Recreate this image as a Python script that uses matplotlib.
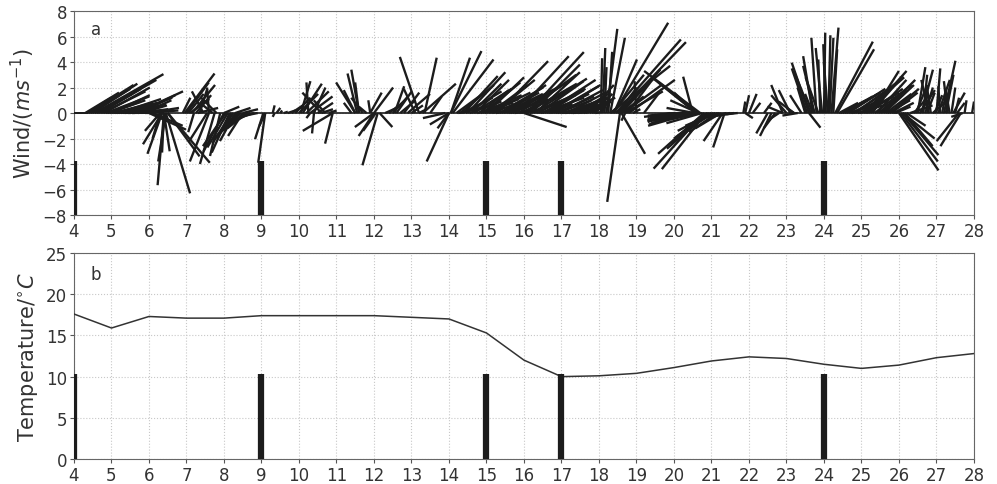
import numpy as np
import matplotlib
matplotlib.use("Agg")
import matplotlib.pyplot as plt

# ── Wind sticks: base time [day], u and v components [m/s] ───────────────────
wind_t = [4.0, 4.05, 4.1, 4.15, 4.2, 4.25,
          4.3, 4.35, 4.4, 4.45, 4.5, 4.55, 4.65, 4.75, 4.85, 4.95, 5.05, 5.15,
          5.25, 5.35, 5.45, 5.55, 5.65, 5.75, 5.85, 5.95, 6.0, 6.1,
          6.35, 6.35, 6.4, 6.4, 6.3, 6.45, 6.4, 6.45, 6.5, 6.5, 6.3,
          6.9, 6.95, 7.0, 7.05, 7.1, 7.6, 7.8, 7.7, 7.3, 7.2,
          7.6, 7.75, 7.9, 8.0, 8.1, 8.2, 8.3, 8.4, 8.5, 8.6, 8.7, 8.8, 8.9,
          8.3, 8.5, 8.0,
          9.1, 9.05, 9.1, 9.3, 9.4, 9.35, 9.5, 9.6,
          9.7, 9.8, 9.9, 10.0, 10.05, 10.1, 10.2, 10.25, 10.3, 10.4, 10.5,
          10.6, 10.6, 10.7, 10.8, 10.9, 10.4, 10.9, 10.3,
          11.5, 11.55, 11.6, 11.6, 11.5, 11.7, 11.8, 11.9, 11.4,
          12.1, 12.0, 12.0, 12.05, 12.0, 11.9, 12.15,
          12.3, 12.4, 12.5, 12.55, 12.6, 12.7, 12.8, 12.9, 13.0, 13.2, 13.1, 13.2,
          13.35, 13.5, 13.3, 14.0, 14.0, 13.9, 14.0,
          14.05, 14.05, 14.1,
          14.2, 14.3, 14.4, 14.5, 14.6, 14.7, 14.8, 14.9, 15.0, 15.1, 15.2,
          15.3, 15.4, 15.5, 15.6, 15.7, 15.8, 15.9, 16.0, 16.0, 16.1, 16.2,
          16.3, 16.4, 16.5, 16.6, 16.7, 16.8, 16.9, 17.0, 17.1, 17.2, 17.3,
          17.4, 17.5, 17.6, 17.7, 17.8, 17.9, 14.25, 14.75, 15.25, 15.75,
          18.1, 18.2, 18.3, 18.15, 18.4, 18.5, 18.45, 18.3, 18.35, 18.5,
          18.6, 18.6, 18.7, 18.56, 18.6, 18.7, 18.9,
          20.6, 20.6, 20.7, 20.5, 20.6, 20.65, 20.55, 19.0, 19.2,
          20.0, 20.2, 20.4, 20.3, 20.5, 20.1, 20.6, 20.7,
          20.8, 20.85, 20.8, 20.9, 20.9, 21.0, 21.1, 21.3, 21.35, 21.2,
          21.4, 21.5, 21.6, 21.7,
          21.85, 21.9, 22.0, 21.9, 22.1, 22.5, 22.6, 22.7, 22.8, 22.9, 23.0,
          23.1, 23.2, 22.9, 22.4, 23.2, 23.3,
          23.6, 23.65, 23.7, 23.8, 23.85, 23.9, 24.0, 24.1, 24.15, 24.2,
          24.25, 23.5, 23.4, 23.6, 23.7,
          24.3, 24.35, 24.4, 24.5, 24.6, 24.7, 24.8, 24.9, 25.0, 25.1, 25.2,
          25.3, 25.4, 25.5, 25.6, 25.7, 25.8, 25.9,
          26.0, 26.1, 26.1, 26.2,
          26.5, 26.6, 26.7, 26.8, 27.0, 27.1, 27.2, 27.3, 27.4, 27.5, 26.4,
          26.9, 27.6, 27.65, 27.7, 27.75, 27.95, 26.3]
wind_u = [0.4, 0.4, 0.4, 0.4, 0.4, 0.4,
          2.65, 1.9, 3.5, 3.1, 3.5, 5.4, 4.55, 3.4, 3.4, 2.8, 3.1, 1.9,
          2.2, 2.2, 2.5, 2.5, 3.7, 2.8, 2.2, 2.5, 2.9, 2.35,
          -1.5, -1.15, -0.5, -0.15, -0.6, -0.6, 0.45, 1.9, 3.3, 2.5, -1.2,
          0.6, 2.35, 1.75, 1.2, 1.5, -0.15, -1.2, -1.0, 1.6, -0.45,
          -1.5, -1.15, -0.8, -1.6, -1.6, -1.5, -1.2, -1.5, -1.15, -1.5, -1.5, -1.5, -1.5,
          1.2, 1.2, 1.2,
          -0.55, -0.65, -0.45, 0.15, 0.3, -0.15, 0.15, 0.3,
          0.6, 0.9, 1.2, 1.5, 0.75, 1.5, 1.75, -0.15, 1.75, 0.9, 1.2,
          -1.5, 0.9, -0.9, 0.6, -2.35, -0.15, -0.6, -0.3,
          -1.5, -0.75, -0.6, -0.3, -0.9, -0.9, -0.6, -0.15, -0.6,
          -1.2, -1.5, -1.2, -1.0, 1.5, 0.9, 1.0,
          0.9, 1.2, 1.2, 0.75, 1.2, 1.2, 1.2, 1.75, 0.9, -1.5, -0.9, 0.6,
          0.95, 0.9, 2.6, -1.75, -1.5, -1.75, -0.9,
          2.4, 1.5, 3.2,
          2.05, 2.65, 2.65, 2.95, 2.35, 2.65, 2.35, 2.95, 2.95, 2.95, 3.2,
          3.95, 2.95, 3.2, 2.65, 3.5, 4.1, 3.2, 3.35, 4.1, 4.4, 3.8,
          3.5, 3.5, 2.05, 2.95, 1.75, 3.5, 2.65, 2.65, 2.05, 2.65, 2.05,
          2.35, 2.35, 1.5, 2.05, 1.2, 0.6, 2.2, 2.8, 2.2, 2.2,
          0.2, 0.85, 1.15, 0.15, 4.25, 5.35, 5.1, 4.7, 2.5, 1.5,
          2.35, 1.75, 2.95, -1.0, 1.85, -0.3, 0.6,
          -3.5, -2.95, -4.4, -0.75, -1.75, -2.2, -2.2, -0.15, 1.2,
          -2.35, -2.65, -2.95, -2.05, -3.5, -0.9, -2.95, -2.35,
          -3.95, -3.45, -3.6, -3.2, -2.65, -2.65, -2.35, -1.5, -0.9, -1.75,
          -1.5, -1.5, -1.2, -0.9,
          0.15, 0.3, 0.6, 0.6, 0.6, -0.9, -0.9, -0.9, -0.9, -0.9, -1.2,
          -0.9, -1.2, -1.2, 0.6, -0.6, -1.2,
          -1.35, -1.3, -0.75, -0.4, -1.0, -0.15, 0.1, -0.3, 0.3, 0.55,
          0.3, -0.6, -0.9, 0.9, -0.6,
          2.95, 2.9, 1.5, 2.35, 2.65, 2.65, 2.95, 2.35, 2.95, 2.65, 2.95,
          2.05, 2.35, 1.75, 2.35, 1.75, 2.05, 1.2,
          3.1, 2.8, 2.5, 1.5,
          0.6, 0.9, 0.6, -0.6, 0.3, -0.15, 0.9, -0.3, 0.3, 0.3, 1.2,
          1.2, -1.75, -1.6, -0.9, 0.15, 0.15, 1.75]
wind_v = [0.0, 0.0, 0.0, 0.0, 0.0, 0.0,
          1.6, 1.2, 2.2, 1.9, 2.3, 3.05, 2.6, 1.7, 1.3, 1.0, 0.8, 0.4,
          0.6, 0.3, 0.2, 0.1, 1.7, 1.4, 1.0, 0.4, -1.3, -1.0,
          -2.45, -3.2, -5.66, -3.1, -2.0, -3.8, -3.0, -6.3, -3.9, -3.4, -1.4,
          1.2, 3.1, 2.4, 1.5, 1.1, 2.0, 1.2, 0.8, 0.4, -1.5,
          -3.8, -4.0, -3.37, -3.0, -2.7, -2.4, -2.2, -1.6, -1.8, -1.2, -0.8, -0.5, -0.3,
          0.4, 0.3, 0.5,
          -3.9, -2.05, -1.0, 0.6, 0.4, -0.3, 0.2, 0.1,
          0.2, 0.6, 1.2, 1.5, 2.5, 2.3, 1.7, 2.4, 1.3, 2.0, 0.8,
          1.6, 0.3, 1.0, 0.2, -1.4, -1.6, -2.4, -0.4,
          2.4, 3.1, 3.4, 2.4, 1.8, 1.2, 0.5, 1.0, 0.8,
          -4.1, -1.1, -1.8, -1.4, 2.0, 1.6, -1.1,
          0.4, 0.9, 1.3, 2.1, 1.7, 1.0, 1.6, 1.5, 0.6, 4.4, 1.9, 0.3,
          4.34, 1.3, 2.3, -3.8, -0.9, -0.4, -1.2,
          4.86, 4.34, 4.2,
          1.5, 2.2, 2.9, 3.2, 2.3, 2.6, 1.8, 2.4, 2.8, 2.2, 2.6,
          4.07, 1.6, 2.2, 1.0, 2.0, 4.46, 1.4, -1.1, 3.0, 4.78, 3.8,
          3.2, 2.5, 1.2, 1.8, 0.7, 2.1, 1.0, 0.6, 0.3, 1.0, 0.2,
          1.4, 1.6, 0.5, 2.2, 0.8, 0.1, 0.5, 0.8, 0.4, 0.3,
          5.1, 6.6, 5.9, 3.6, 7.08, 5.56, 5.77, 3.7, 3.0, 2.0,
          2.6, 1.3, 1.7, -6.97, -3.2, -0.6, 0.3,
          2.8, 2.4, 3.3, 2.85, 1.6, 1.0, 0.4, 2.5, 1.6,
          -0.3, -0.5, -0.8, -0.2, -1.0, -0.4, -0.3, -0.5,
          -4.36, -4.4, -3.2, -2.8, -2.0, -1.4, -1.0, -2.2, -2.7, -0.6,
          -0.4, -0.3, -0.2, -0.1,
          0.9, 1.4, 1.5, -0.4, 0.8, -1.6, -1.8, -1.2, -0.6, 2.2, 1.4,
          1.8, 0.9, 0.5, 0.8, 0.4, -0.2,
          3.95, 3.2, 4.46, 5.9, 2.8, 4.2, 6.3, 4.0, 5.9, 6.7,
          5.0, 2.0, 1.4, -1.15, 1.5,
          5.6, 5.0, 0.8, 1.3, 1.6, 1.1, 2.0, 0.7, 2.5, 1.6, 3.3,
          3.3, 2.6, 1.4, 2.2, 1.0, 1.6, 0.5,
          -4.5, -3.3, -2.0, -1.0,
          3.6, 3.4, 2.0, 2.6, 3.5, 2.1, 4.1, 2.5, 2.0, 1.2, 1.4,
          1.0, -2.2, -2.6, -0.3, 1.0, 0.9, 0.6]

# intermediate (half-step) records in the busy periods
wind_t2 = [14.35, 14.45, 14.55, 14.65, 14.85, 14.95, 15.05, 15.15, 15.35,
           15.45, 15.55, 15.65, 15.85, 15.95, 16.05, 16.15, 16.25, 16.35,
           16.45, 16.55, 16.65, 16.75, 16.85, 16.95, 17.05, 17.15, 17.25,
           17.35, 17.45, 17.55, 17.65, 17.75, 17.85,
           24.45, 24.55, 24.65, 24.75, 24.85, 24.95, 25.05, 25.15, 25.25,
           25.35, 25.45, 25.55, 25.65, 25.75, 25.85,
           19.9, 20.05, 20.15, 20.25, 20.35, 20.45, 20.55, 20.65, 20.75,
           20.95, 21.05, 21.15, 21.25,
           18.05, 18.25, 18.4, 18.55, 18.65, 18.75, 18.8,
           4.6, 4.7, 4.8, 4.9, 5.0, 5.1, 5.2, 5.3, 5.4, 5.5, 5.6, 5.7, 5.8, 5.9,
           7.15, 7.25, 7.35, 7.45, 7.55, 8.05, 8.15, 8.25, 8.35, 8.45, 8.55, 8.65,
           23.55, 23.75, 23.95, 24.05, 24.12,
           26.45, 26.55, 26.65, 26.75, 26.85, 26.95, 27.05, 27.15, 27.25,
           27.35, 27.45, 27.55, 26.05, 26.15]
wind_u2 = [2.4, 2.8, 2.5, 3.0, 3.2, 2.7, 3.3, 3.0, 3.4,
           3.1, 3.6, 2.9, 3.8, 3.3, 4.0, 3.6, 4.2, 3.8,
           3.4, 4.0, 3.2, 3.8, 3.0, 3.4, 2.6, 3.0, 2.4,
           2.8, 2.2, 2.6, 2.0, 1.8, 1.4,
           2.0, 2.6, 2.9, 2.4, 3.1, 2.7, 3.2, 2.8, 2.5,
           2.9, 2.2, 2.6, 2.0, 2.3, 1.6,
           -1.8, -2.2, -2.5, -2.8, -3.0, -3.2, -3.3, -3.0, -2.8,
           -3.0, -2.8, -2.2, -2.0,
           0.1, 0.3, 1.8, 3.2, 3.0, 2.2, 3.6,
           2.8, 3.2, 3.6, 2.6, 3.0, 2.4, 3.3, 2.7, 2.0, 2.8, 3.0, 2.4, 2.0, 2.6,
           1.8, 1.2, 0.6, -0.9, -1.4, -1.8, -1.4, -1.3, -1.7, -1.4, -1.2, -1.0,
           -1.2, -0.9, -0.5, -0.2, 0.15,
           0.9, 1.2, 0.3, 0.6, -0.3, 0.6, 0.9, 0.3, 0.6,
           -0.3, 0.9, 0.6, 2.9, 2.2]
wind_v2 = [1.2, 1.7, 0.9, 1.9, 1.4, 1.1, 1.6, 1.2, 2.0,
           1.5, 1.8, 1.1, 2.4, 1.6, 2.3, 1.4, 2.7, 1.9,
           1.2, 2.6, 1.5, 2.2, 1.3, 1.8, 0.9, 1.6, 0.7,
           1.3, 0.6, 1.2, 1.0, 1.5, 0.9,
           1.0, 1.5, 1.9, 0.9, 2.3, 1.3, 2.8, 1.9, 2.9,
           2.2, 1.8, 2.6, 1.5, 1.9, 0.8,
           -0.6, -0.2, -0.7, -0.3, -0.9, -0.4, -0.6, -0.2, -0.8,
           -2.4, -1.8, -1.5, -1.2,
           4.3, 4.8, 4.2, 3.4, 2.2, 2.9, 2.6,
           1.5, 1.9, 2.0, 0.9, 1.4, 0.6, 1.1, 0.8, 0.5, 0.7, 1.2, 0.3, 0.6, 0.2,
           2.2, 1.4, 1.9, 1.7, -2.2, -2.6, -3.1, -2.0, -1.9, -1.4, -1.0, -0.6,
           3.5, 3.7, 5.1, 5.4, 6.1,
           2.2, 1.8, 3.0, 1.6, 2.0, 1.4, 2.6, 1.5, 3.0,
           1.8, 1.6, 0.8, -3.8, -2.6]

# ── Daily mean temperature [°C] ──────────────────────────────────────────────
days = list(range(4, 29))
temp = [17.6, 15.9, 17.3, 17.1, 17.1, 17.4, 17.4, 17.4, 17.4, 17.2, 17.0,
        15.3, 12.0, 10.0, 10.1, 10.4, 11.1, 11.9, 12.4, 12.2, 11.5, 11.0,
        11.4, 12.3, 12.8]

# ── Marked event days ────────────────────────────────────────────────────────
event_days = [4, 9, 15, 17, 24]

plt.rcParams["font.family"] = "DejaVu Sans"
fig = plt.figure(figsize=(9.97, 4.85), dpi=100)
ax1 = fig.add_axes([0.0742, 0.5546, 0.9027, 0.4206])
ax2 = fig.add_axes([0.0742, 0.0515, 0.9027, 0.4247])

ink = "#1c1c1c"

# (a) wind stick plot
t_all = wind_t + wind_t2
u_all = wind_u + wind_u2
v_all = wind_v + wind_v2
ax1.set_xlim(4, 28)
ax1.set_ylim(-8, 8)
ax1.quiver(t_all, np.zeros(len(t_all)), u_all, v_all,
           angles="uv", scale_units="y", scale=1, pivot="tail",
           headwidth=0, headlength=0, headaxislength=0, minlength=0,
           width=0.0026, color=ink, zorder=3)
ax1.plot([4, 28], [0, 0], color=ink, lw=1.2, zorder=3)
ax1.vlines(event_days, -8, -3.8, color=ink, lw=4.5, zorder=4)
ax1.set_ylabel(r"Wind/$(ms^{-1})$", fontsize=15, color="#333333")
ax1.set_yticks(range(-8, 9, 2))
ax1.text(4.45, 6.2, "a", fontsize=12, color="#333333")

# (b) temperature
ax2.set_xlim(4, 28)
ax2.set_ylim(0, 25)
ax2.plot(days, temp, color="#333333", lw=1.1, zorder=3)
ax2.vlines(event_days, 0, 10.3, color=ink, lw=4.5, zorder=4)
ax2.set_ylabel(r"Temperature/$^{\circ}C$", fontsize=15, color="#333333")
ax2.set_yticks(range(0, 26, 5))
ax2.text(4.45, 21.8, "b", fontsize=12, color="#333333")

for ax in (ax1, ax2):
    ax.set_xticks(range(4, 29))
    ax.tick_params(labelsize=12, length=3, color="#555555",
                   labelcolor="#333333", pad=2)
    ax.grid(True, color="#c8c8c8", ls=":", lw=0.8)
    ax.set_axisbelow(True)
    for s in ax.spines.values():
        s.set_color("#666666")

fig.savefig("out.png", dpi=100)
